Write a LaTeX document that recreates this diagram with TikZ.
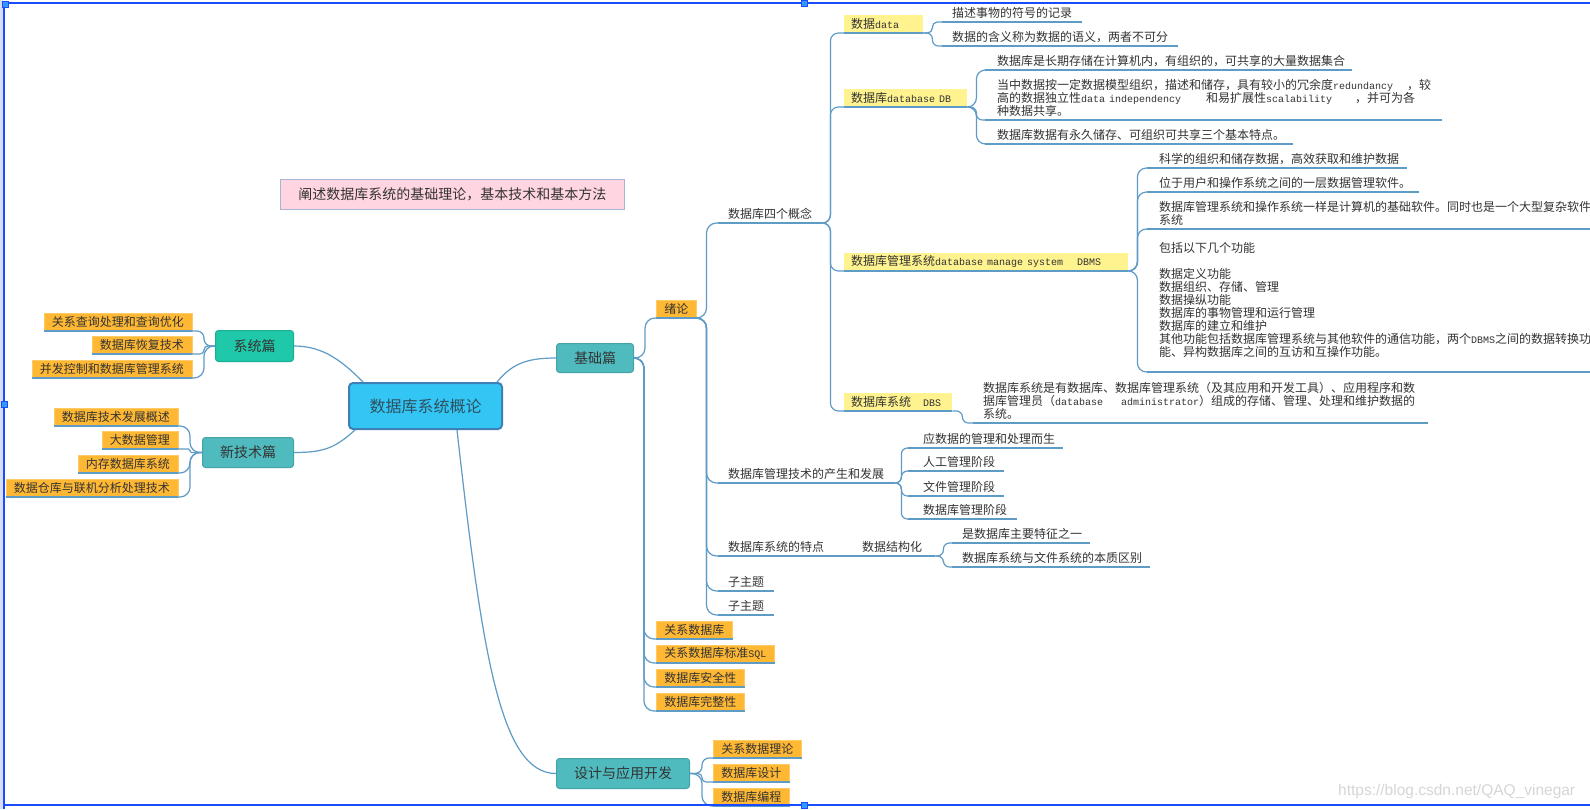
\documentclass[tikz,border=0pt]{standalone}
\usepackage{xcolor}
\usepackage{fontspec}
\setmainfont{Noto Sans CJK SC}
\newfontfamily\monofnt[Scale=0.8333]{Liberation Mono}
\newfontfamily\wmfont{Liberation Sans}
\newcommand\mytt[1]{{\monofnt #1}}
\newcommand\fsa{\fontsize{12}{13}\selectfont}
\newcommand\fsb{\fontsize{14}{16}\selectfont}
\newcommand\fsc{\fontsize{16}{18}\selectfont}
\definecolor{conn}{HTML}{5E9BC6}
\definecolor{txt}{HTML}{333333}
\definecolor{cfill}{HTML}{33C6F4}
\definecolor{cbord}{HTML}{3C80B6}
\definecolor{ctext}{HTML}{2E5060}
\definecolor{grn}{HTML}{1EC8A8}
\definecolor{grnb}{HTML}{1AAE92}
\definecolor{tl}{HTML}{50BBBF}
\definecolor{tlb}{HTML}{43A3A7}
\definecolor{orng}{HTML}{FFB834}
\definecolor{orngb}{HTML}{FFCB66}
\definecolor{yel}{HTML}{FFF38F}
\definecolor{pinkf}{HTML}{FFD5E1}
\definecolor{pinkb}{HTML}{A8B4D4}
\definecolor{selb}{HTML}{1A4CFF}
\definecolor{selh}{HTML}{3399FF}
\definecolor{lav}{HTML}{D8DCF5}
\definecolor{wmc}{HTML}{D6D6D6}
\newcommand\myconn[4][8pt]{\draw[cn, rounded corners=#1] (#2) -- ([xshift=#4]#2) |- (#3);}
\tikzset{
  cn/.style={draw=conn, line width=1.2pt},
  mainc/.style={anchor=north west, minimum width=153pt, minimum height=46pt, inner sep=0pt,
    fill=cfill, draw=cbord, line width=2pt, rounded corners=4pt, font=\fsc, text=ctext},
  mb/.style={anchor=north west, inner sep=0pt, rounded corners=3pt, fill=tl, draw=tlb,
    line width=1pt, font=\fsb, text=txt},
  ob/.style={fill=orng, draw=orngb, line width=0.5pt, inner xsep=8pt, inner ysep=0pt,
    minimum height=18pt, font=\fsa, text=txt},
  yb/.style={anchor=south west, fill=yel, inner xsep=7pt, inner ysep=0pt, minimum height=18pt,
    align=left, font=\fsa, text=txt},
  tp/.style={anchor=south west, inner xsep=10pt, inner ysep=3.5pt, align=left, font=\fsa, text=txt},
  hd/.style={fill=selh, draw=selb, line width=0.8pt},
  sel/.style={draw=selb, line width=1.3pt}
}
\begin{document}
\begin{tikzpicture}[x=1pt,y=-1pt]
\path[use as bounding box] (0,0) rectangle (1590,809);
\clip (0,0) rectangle (1590,809);
\fill[white] (0,0) rectangle (1590,809);

% main nodes
\node[mainc] (c) at (348,382) {数据库系统概论};
\node[anchor=north west, minimum width=344pt, minimum height=30pt, inner sep=0pt, fill=pinkf,
  draw=pinkb, line width=0.8pt, font=\fsb, text=txt] (pink) at (280,179)
  {阐述数据库系统的基础理论，基本技术和基本方法};
\node[mb, minimum width=78pt, minimum height=31pt, fill=grn, draw=grnb] (xt) at (215,330) {系统篇};
\node[mb, minimum width=91pt, minimum height=30pt] (xj) at (202,437) {新技术篇};
\node[mb, minimum width=77pt, minimum height=29pt] (jc) at (556,343) {基础篇};
\node[mb, minimum width=133pt, minimum height=30pt] (sj) at (556,758) {设计与应用开发};

% left leaves
\node[ob, anchor=south east] (l1) at (192,331) {关系查询处理和查询优化};
\node[ob, anchor=south east] (l2) at (192,354) {数据库恢复技术};
\node[ob, anchor=south east] (l3) at (192,378) {并发控制和数据库管理系统};
\node[ob, anchor=south east] (n1) at (178,426) {数据库技术发展概述};
\node[ob, anchor=south east] (n2) at (178,449) {大数据管理};
\node[ob, anchor=south east] (n3) at (178,473) {内存数据库系统};
\node[ob, anchor=south east] (n4) at (178,497) {数据仓库与联机分析处理技术};

% right orange leaves
\node[ob, anchor=south west] (xl) at (656,318) {绪论};
\node[ob, anchor=south west] (r1) at (656,639) {关系数据库};
\node[ob, anchor=south west] (r2) at (656,663) {关系数据库标准\mytt{SQL}};
\node[ob, anchor=south west] (r3) at (656,687) {数据库安全性};
\node[ob, anchor=south west] (r4) at (656,711) {数据库完整性};
\node[ob, anchor=south west] (s1) at (713,758) {关系数据理论};
\node[ob, anchor=south west] (s2) at (713,782) {数据库设计};
\node[ob, anchor=south west] (s3) at (713,806) {数据库编程};

% topics under 绪论
\node[tp, text width=84pt] (t1) at (718,223) {数据库四个概念};
\node[tp, text width=157pt] (t2) at (718,483) {数据库管理技术的产生和发展};
\node[tp, text width=102pt] (t3) at (718,556) {数据库系统的特点};
\node[tp, text width=63pt] (t4) at (852,556) {数据结构化};
\node[tp, text width=36pt] (z1) at (718,591) {子主题};
\node[tp, text width=36pt] (z2) at (718,615) {子主题};

% concept boxes
\node[yb, text width=65pt] (ca) at (844,33) {数据\mytt{data}};
\node[yb, text width=109pt] (cb) at (844,107) {数据库\mytt{database~DB}};
\node[yb, text width=270pt] (cm) at (844,271) {数据库管理系统\mytt{database~manage~system}\kern14pt\mytt{DBMS}};
\node[yb, text width=94pt] (cs) at (844,411) {数据库系统\kern12pt\mytt{DBS}};

% details
\node[tp, text width=120pt] (d1) at (942,22) {描述事物的符号的记录};
\node[tp, text width=216pt] (d2) at (942,46) {数据的含义称为数据的语义，两者不可分};
\node[tp, inner xsep=12pt, text width=343pt] (b1) at (985,70) {数据库是长期存储在计算机内，有组织的，可共享的大量数据集合};
\node[tp, inner xsep=12pt, text width=433pt] (b2) at (985,120)
  {当中数据按一定数据模型组织，描述和储存，具有较小的冗余度\mytt{redundancy}\kern14pt，较\\
   高的数据独立性\mytt{data~independency}\kern25pt 和易扩展性\mytt{scalability}\kern23pt，并可为各\\
   种数据共享。};
\node[tp, inner xsep=12pt, text width=284pt] (b3) at (985,144) {数据库数据有永久储存、可组织可共享三个基本特点。};
\node[tp, inner xsep=12pt, text width=236pt] (m1) at (1147,168) {科学的组织和储存数据，高效获取和维护数据};
\node[tp, inner xsep=12pt, text width=248pt] (m2) at (1147,192) {位于用户和操作系统之间的一层数据管理软件。};
\node[tp, inner xsep=12pt, text width=540pt] (m3) at (1147,229)
  {数据库管理系统和操作系统一样是计算机的基础软件。同时也是一个大型复杂软件\\系统};
\node[tp, inner xsep=12pt, text width=540pt] (m4) at (1147,372)
  {包括以下几个功能\\[13pt]
   数据定义功能\\
   数据组织、存储、管理\\
   数据操纵功能\\
   数据库的事物管理和运行管理\\
   数据库的建立和维护\\
   其他功能包括数据库管理系统与其他软件的通信功能，两个\mytt{DBMS}之间的数据转换功\\
   能、异构数据库之间的互访和互操作功能。\\[-1pt]\mbox{}};
\node[tp, text width=435pt] (q1) at (973,423)
  {数据库系统是有数据库、数据库管理系统（及其应用和开发工具）、应用程序和数\\
   据库管理员（\mytt{database}\kern18pt\mytt{administrator}）组成的存储、管理、处理和维护数据的\\
   系统。};
\node[tp, inner xsep=15pt, text width=125pt] (j1) at (908,448) {应数据的管理和处理而生};
\node[tp, inner xsep=15pt, text width=66pt] (j2) at (908,471) {人工管理阶段};
\node[tp, inner xsep=15pt, text width=66pt] (j3) at (908,496) {文件管理阶段};
\node[tp, inner xsep=15pt, text width=79pt] (j4) at (908,519) {数据库管理阶段};
\node[tp, text width=118pt] (g1) at (952,543) {是数据库主要特征之一};
\node[tp, text width=178pt] (g2) at (952,567) {数据库系统与文件系统的本质区别};

% underlines
\foreach \n in {l1,l2,l3,n1,n2,n3,n4,xl,r1,r2,r3,r4,s1,s2,s3,ca,cb,cm,cs,
  t1,t2,t3,t4,z1,z2,d1,d2,b1,b2,b3,m1,m2,m3,m4,q1,j1,j2,j3,j4,g1,g2}
  \draw[cn] (\n.south west) -- (\n.south east);

% connectors from central
\draw[cn] ([xshift=15pt]c.north west) .. controls +(-20,-20) and +(30,0) .. (xt.east);
\draw[cn] ([xshift=-6pt]c.north east) .. controls +(15,-18) and +(-30,0) .. (jc.west);
\draw[cn] ([xshift=7pt]c.south west) .. controls +(-20,18) and +(30,0) .. (xj.east);
\draw[cn] ([xshift=-46pt]c.south east) .. controls +(25,222) and +(-56,0) .. (sj.west);

\myconn[7pt]{xt.west}{l1.south east}{-11pt}
\myconn[4pt]{xt.west}{l2.south east}{-11pt}
\myconn[10pt]{xt.west}{l3.south east}{-11pt}
\myconn[10pt]{xj.west}{n1.south east}{-12pt}
\myconn[1.4pt]{xj.west}{n2.south east}{-12pt}
\myconn[10pt]{xj.west}{n3.south east}{-12pt}
\myconn[10pt]{xj.west}{n4.south east}{-12pt}

\myconn[10pt]{jc.east}{xl.south west}{11pt}
\myconn[10pt]{jc.east}{r1.south west}{10pt}
\myconn[10pt]{jc.east}{r2.south west}{10pt}
\myconn[10pt]{jc.east}{r3.south west}{10pt}
\myconn[10pt]{jc.east}{r4.south west}{10pt}

\myconn[7pt]{sj.east}{s1.south west}{12pt}
\myconn[4pt]{sj.east}{s2.south west}{12pt}
\myconn[10pt]{sj.east}{s3.south west}{12pt}

\myconn[10pt]{xl.south east}{t1.south west}{10pt}
\myconn[10pt]{xl.south east}{t2.south west}{10pt}
\myconn[10pt]{xl.south east}{t3.south west}{10pt}
\myconn[10pt]{xl.south east}{z1.south west}{10pt}
\myconn[10pt]{xl.south east}{z2.south west}{10pt}
\draw[cn] (t3.south east) -- (t4.south west);

\myconn[8pt]{t1.south east}{ca.south west}{8pt}
\myconn[8pt]{t1.south east}{cb.south west}{8pt}
\myconn[8pt]{t1.south east}{cm.south west}{8pt}
\myconn[8pt]{t1.south east}{cs.south west}{8pt}

\myconn[5pt]{ca.south east}{d1.south west}{9pt}
\myconn[6pt]{ca.south east}{d2.south west}{9pt}
\myconn[9pt]{cb.south east}{b1.south west}{9pt}
\myconn[6pt]{cb.south east}{b2.south west}{9pt}
\myconn[9pt]{cb.south east}{b3.south west}{9pt}
\myconn[9pt]{cm.south east}{m1.south west}{9pt}
\myconn[9pt]{cm.south east}{m2.south west}{9pt}
\myconn[9pt]{cm.south east}{m3.south west}{9pt}
\myconn[9pt]{cm.south east}{m4.south west}{9pt}
\myconn[6pt]{cs.south east}{q1.south west}{10pt}
\myconn[6pt]{t2.south east}{j1.south west}{6pt}
\myconn[6pt]{t2.south east}{j2.south west}{6pt}
\myconn[6pt]{t2.south east}{j3.south west}{6pt}
\myconn[6pt]{t2.south east}{j4.south west}{6pt}
\myconn[6pt]{t4.south east}{g1.south west}{8pt}
\myconn[6pt]{t4.south east}{g2.south west}{8pt}

% watermark
\node[anchor=west, inner sep=0pt, font=\wmfont\fontsize{15.5}{17}\selectfont, text=wmc] (wm)
  at (1338,791) {https://blog.csdn.net/QAQ\_vinegar};

% selection frame
\fill[lav] (0,0) rectangle (3,809);
\draw[sel] (4,809) -- (4,3) -- (1590,3);
\draw[sel] (4,805) -- (1590,805);
\filldraw[hd] (2,1) rectangle (8,7);
\filldraw[hd] (801,0) rectangle (807,6);
\filldraw[hd] (1,401) rectangle (7,407);
\filldraw[hd] (801,802) rectangle (807,808);
\end{tikzpicture}
\end{document}
